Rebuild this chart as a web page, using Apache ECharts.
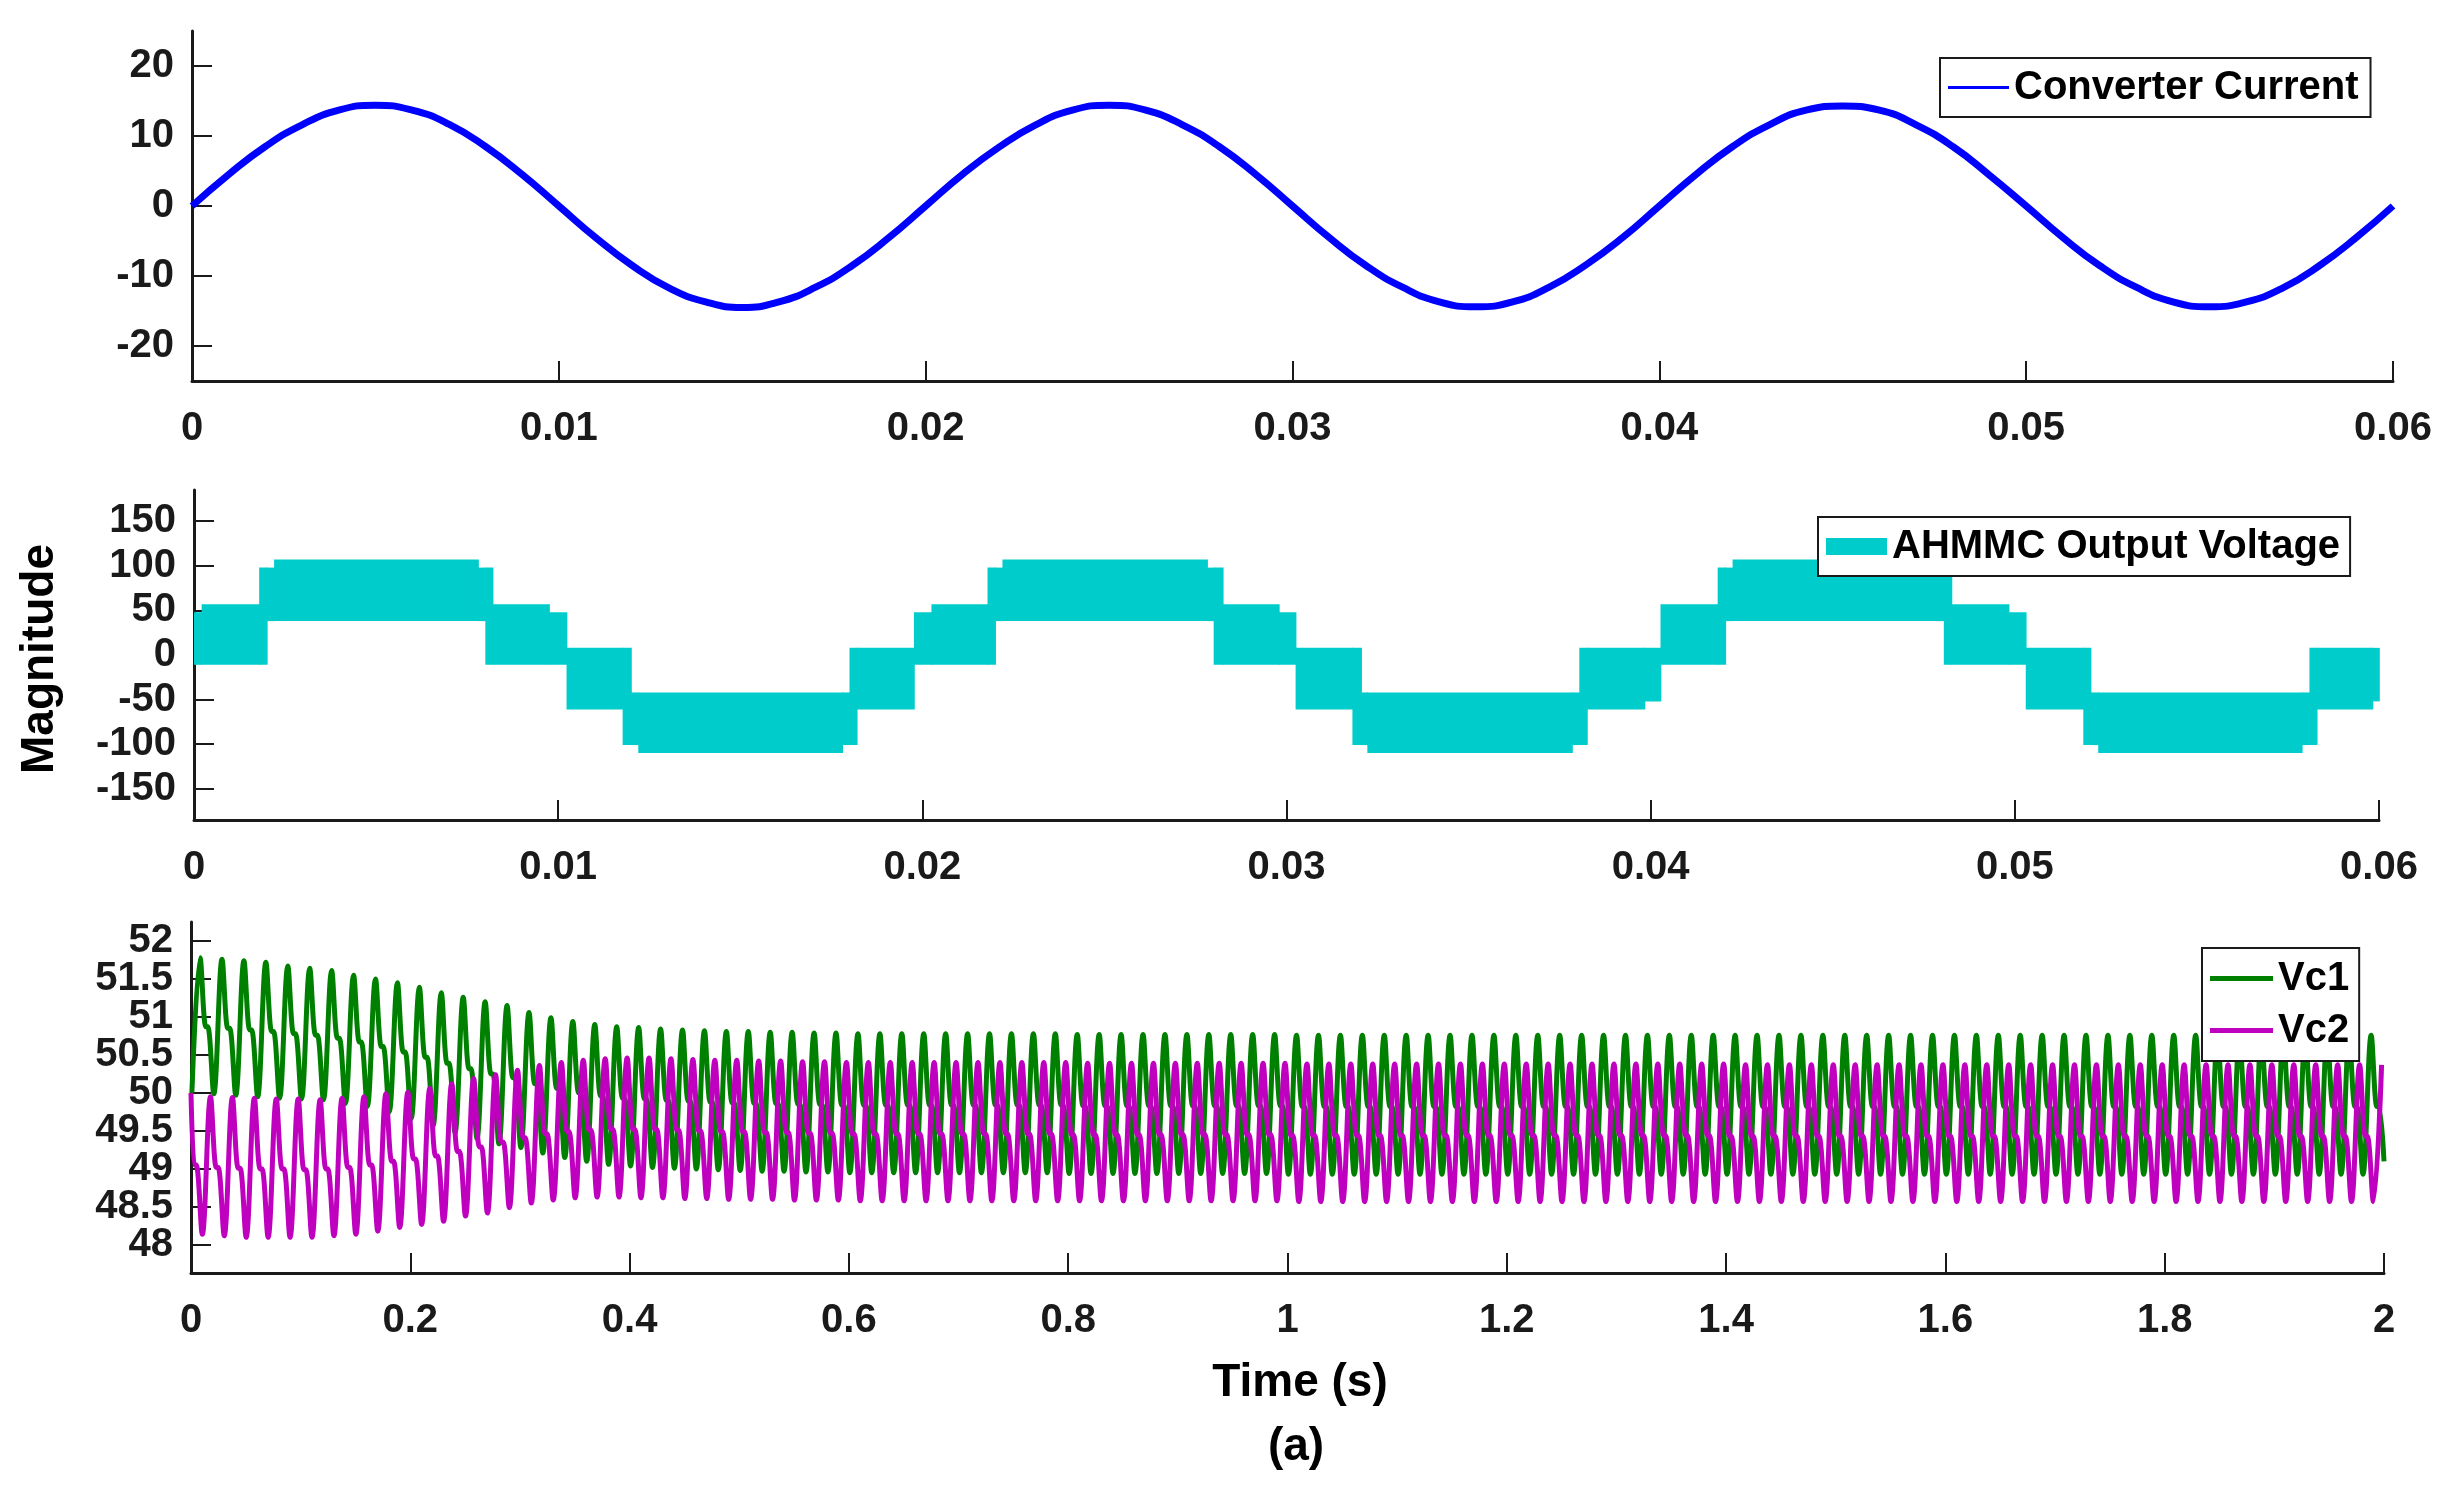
<!DOCTYPE html>
<html>
<head>
<meta charset="utf-8">
<title>AHMMC waveforms</title>
<script src="https://cdn.jsdelivr.net/npm/echarts@6/dist/echarts.min.js"></script>
<style>
  html, body { margin: 0; padding: 0; background: #fff; }
  #chart { width: 2459px; height: 1491px; }
</style>
</head>
<body>
<div id="chart"></div>
<script>
// converter current, one reading per millisecond, 0 .. 60 ms
var currentStepMs = 1;
var currentA = [
  0, 4.5, 8.5, 11.6, 13.7, 14.4, 13.7, 11.7, 8.5, 4.5,
  0, -4.5, -8.5, -11.7, -13.7, -14.5, -13.7, -11.6, -8.5, -4.5,
  0, 4.5, 8.4, 11.6, 13.7, 14.4, 13.7, 11.6, 8.5, 4.5,
  0, -4.5, -8.5, -11.6, -13.7, -14.4, -13.7, -11.6, -8.4, -4.5,
  0, 4.5, 8.5, 11.6, 13.7, 14.3, 13.7, 11.6, 8.5, 4.4,
  0, -4.5, -8.5, -11.6, -13.7, -14.4, -13.7, -11.7, -8.5, -4.5,
  0
];

// AHMMC output voltage: switching band, segment i runs bandMs[i] .. bandMs[i+1]
var bandMs = [
  0, 0.21, 1.79, 2.0, 2.2, 7.8, 8.0, 8.2, 9.75, 10.23, 11.77, 12.0, 12.2, 17.8, 18.0, 18.2, 19.77,
  20.25, 21.79, 22.0, 22.2, 27.82, 28.0, 28.25, 29.79, 30.25, 31.81, 32.05, 32.22, 37.84, 38.04, 38.25, 39.83, 40.27,
  41.84, 42.05, 42.25, 47.83, 48.05, 48.26, 49.83, 50.3, 51.88, 52.08, 52.29, 57.88, 58.09, 58.29, 59.82, 60.0
];
var bandLow = [
  -11, -11, -11, 38, 38, 38, -11, -11, -11, -61, -101, -101, -110, -101, -101, -61,
  -11, -11, -11, 38, 38, 38, -11, -11, -11, -61, -101, -101, -110, -101, -101, -61, -52,
  -11, -11, 38, 38, 38, -11, -11, -11, -61, -101, -101, -110, -101, -101, -61, -52
];
var bandHigh = [
  48, 57, 98, 98, 107, 98, 98, 57, 48, 8, 8, -42, -42, -42, 8, 8,
  48, 57, 98, 98, 107, 98, 98, 57, 48, 8, 8, -42, -42, -42, 8, 8, 8,
  57, 98, 98, 107, 98, 98, 57, 48, 8, 8, -42, -42, -42, 8, 8, 8
];

// capacitor voltages, one entry per 50 Hz cycle (100 cycles over 2 s)
var cycleMs = 20;
var vc1OffsetMs = [0.8, 8.3, 13.5, 15.3];   // trough, peak, knee, knee
var vc1Trough = [
  50.00, 49.99, 49.97, 49.95, 49.93, 49.92, 49.91, 49.86, 49.82, 49.75,
  49.66, 49.57, 49.48, 49.40, 49.33, 49.28, 49.21, 49.15, 49.10, 49.06,
  49.04, 49.02, 49.01, 49.00, 48.99, 48.98, 48.97, 48.97, 48.96, 48.96,
  48.95, 48.95, 48.95, 48.95, 48.95, 48.95, 48.95, 48.95, 48.95, 48.95,
  48.94, 48.94, 48.94, 48.94, 48.94, 48.94, 48.94, 48.94, 48.94, 48.94,
  48.93, 48.93, 48.93, 48.93, 48.93, 48.93, 48.93, 48.93, 48.93, 48.93,
  48.93, 48.93, 48.93, 48.93, 48.93, 48.93, 48.93, 48.93, 48.93, 48.93,
  48.93, 48.93, 48.93, 48.93, 48.93, 48.93, 48.93, 48.93, 48.93, 48.93,
  48.93, 48.93, 48.93, 48.93, 48.93, 48.93, 48.93, 48.93, 48.93, 48.93,
  48.93, 48.93, 48.93, 48.93, 48.93, 48.93, 48.93, 48.93, 48.93, 48.93
];
var vc1Peak = [
  51.78, 51.76, 51.74, 51.72, 51.67, 51.64, 51.61, 51.55, 51.50, 51.45,
  51.39, 51.32, 51.26, 51.20, 51.15, 51.06, 50.99, 50.94, 50.90, 50.87,
  50.86, 50.84, 50.83, 50.82, 50.81, 50.81, 50.80, 50.80, 50.79, 50.79,
  50.78, 50.78, 50.78, 50.78, 50.78, 50.78, 50.78, 50.78, 50.78, 50.78,
  50.77, 50.77, 50.77, 50.77, 50.77, 50.77, 50.77, 50.77, 50.77, 50.77,
  50.76, 50.76, 50.76, 50.76, 50.76, 50.76, 50.76, 50.76, 50.76, 50.76,
  50.76, 50.76, 50.76, 50.76, 50.76, 50.76, 50.76, 50.76, 50.76, 50.76,
  50.76, 50.76, 50.76, 50.76, 50.76, 50.76, 50.76, 50.76, 50.76, 50.76,
  50.76, 50.76, 50.76, 50.76, 50.76, 50.76, 50.76, 50.76, 50.76, 50.76,
  50.76, 50.76, 50.76, 50.76, 50.76, 50.76, 50.76, 50.76, 50.76, 50.76
];
var vc1Knee = [
  50.87, 50.85, 50.83, 50.81, 50.78, 50.76, 50.72, 50.67, 50.61, 50.54,
  50.47, 50.39, 50.32, 50.25, 50.20, 50.12, 50.06, 50.00, 49.96, 49.93,
  49.92, 49.90, 49.89, 49.88, 49.87, 49.86, 49.86, 49.85, 49.85, 49.84,
  49.84, 49.84, 49.84, 49.84, 49.84, 49.84, 49.84, 49.84, 49.84, 49.84,
  49.83, 49.83, 49.83, 49.83, 49.83, 49.83, 49.83, 49.83, 49.83, 49.83,
  49.82, 49.82, 49.82, 49.82, 49.82, 49.82, 49.82, 49.82, 49.82, 49.82,
  49.82, 49.82, 49.82, 49.82, 49.82, 49.82, 49.82, 49.82, 49.82, 49.82,
  49.82, 49.82, 49.82, 49.82, 49.82, 49.82, 49.82, 49.82, 49.82, 49.82,
  49.82, 49.82, 49.82, 49.82, 49.82, 49.82, 49.82, 49.82, 49.82, 49.82,
  49.82, 49.82, 49.82, 49.82, 49.82, 49.82, 49.82, 49.82, 49.82, 49.82
];
var vc1End = 49.1;

var vc2Start = 50.0;
var vc2OffsetMs = [3.0, 4.8, 10.3, 17.8];   // knee, knee, trough, peak
var vc2Knee = [
  49.05, 49.02, 49.01, 49.00, 49.00, 48.99, 49.00, 49.02, 49.05, 49.10,
  49.13, 49.17, 49.23, 49.29, 49.35, 49.41, 49.46, 49.49, 49.51, 49.52,
  49.52, 49.52, 49.51, 49.50, 49.49, 49.49, 49.48, 49.48, 49.47, 49.47,
  49.46, 49.46, 49.46, 49.46, 49.46, 49.46, 49.46, 49.46, 49.46, 49.46,
  49.45, 49.45, 49.45, 49.45, 49.45, 49.45, 49.45, 49.45, 49.45, 49.45,
  49.44, 49.44, 49.44, 49.44, 49.44, 49.44, 49.44, 49.44, 49.44, 49.44,
  49.44, 49.44, 49.44, 49.44, 49.44, 49.44, 49.44, 49.44, 49.44, 49.44,
  49.43, 49.43, 49.43, 49.43, 49.43, 49.43, 49.43, 49.43, 49.43, 49.43,
  49.43, 49.43, 49.43, 49.43, 49.43, 49.43, 49.43, 49.43, 49.43, 49.43,
  49.43, 49.43, 49.43, 49.43, 49.43, 49.43, 49.43, 49.43, 49.43, 49.43
];
var vc2Trough = [
  48.14, 48.12, 48.10, 48.10, 48.10, 48.10, 48.12, 48.14, 48.18, 48.23,
  48.27, 48.31, 48.38, 48.42, 48.49, 48.55, 48.59, 48.62, 48.63, 48.63,
  48.62, 48.62, 48.61, 48.61, 48.60, 48.60, 48.60, 48.59, 48.59, 48.59,
  48.58, 48.58, 48.58, 48.58, 48.58, 48.58, 48.58, 48.58, 48.58, 48.58,
  48.58, 48.58, 48.58, 48.58, 48.58, 48.58, 48.58, 48.58, 48.58, 48.58,
  48.57, 48.57, 48.57, 48.57, 48.57, 48.57, 48.57, 48.57, 48.57, 48.57,
  48.57, 48.57, 48.57, 48.57, 48.57, 48.57, 48.57, 48.57, 48.57, 48.57,
  48.57, 48.57, 48.57, 48.57, 48.57, 48.57, 48.57, 48.57, 48.57, 48.57,
  48.57, 48.57, 48.57, 48.57, 48.57, 48.57, 48.57, 48.57, 48.57, 48.57,
  48.57, 48.57, 48.57, 48.57, 48.57, 48.57, 48.57, 48.57, 48.57, 48.57
];
var vc2Peak = [
  49.95, 49.94, 49.93, 49.92, 49.92, 49.91, 49.93, 49.95, 49.99, 50.01,
  50.06, 50.12, 50.19, 50.24, 50.30, 50.36, 50.40, 50.43, 50.45, 50.46,
  50.46, 50.45, 50.44, 50.43, 50.43, 50.42, 50.42, 50.41, 50.41, 50.40,
  50.40, 50.40, 50.40, 50.40, 50.40, 50.40, 50.40, 50.40, 50.40, 50.40,
  50.39, 50.39, 50.39, 50.39, 50.39, 50.39, 50.39, 50.39, 50.39, 50.39,
  50.38, 50.38, 50.38, 50.38, 50.38, 50.38, 50.38, 50.38, 50.38, 50.38,
  50.38, 50.38, 50.38, 50.38, 50.38, 50.38, 50.38, 50.38, 50.38, 50.38,
  50.37, 50.37, 50.37, 50.37, 50.37, 50.37, 50.37, 50.37, 50.37, 50.37,
  50.37, 50.37, 50.37, 50.37, 50.37, 50.37, 50.37, 50.37, 50.37, 50.37,
  50.37, 50.37, 50.37, 50.37, 50.37, 50.37, 50.37, 50.37, 50.37, 50.37
];

// tick labels (the capacitor panel's labels are split over two axes so none get dropped)
var currentTicks = [-20, -10, 0, 10, 20];
var voltageTicks = [-150, -100, -50, 0, 50, 100, 150];
var vcTicks = [48, 48.5, 49, 49.5, 50, 50.5, 51, 51.5, 52];
var vcWholeLabels = [48, 49, 50, 51, 52];
var vcHalfLabels = [48.5, 49.5, 50.5, 51.5];

var FONT = "'Liberation Sans', Arial, sans-serif";
var INK = '#1a1a1a';
var BLUE = '#0000ff', CYAN = '#00cccc', GREEN = '#008000', MAGENTA = '#bf00bf';

// build the tables the series need
var currentData = currentA.map(function (v, i) { return [i * currentStepMs / 1000, v]; });

var bandData = [];
for (var i = 0; i < bandLow.length; i++) {
  bandData.push([bandMs[i] / 1000, bandMs[i + 1] / 1000, bandLow[i], bandHigh[i]]);
}

var vc1Data = [];
for (var k = 0; k < vc1Peak.length; k++) {
  var t0 = k * cycleMs;
  vc1Data.push([(t0 + vc1OffsetMs[0]) / 1000, vc1Trough[k]]);
  vc1Data.push([(t0 + vc1OffsetMs[1]) / 1000, vc1Peak[k]]);
  vc1Data.push([(t0 + vc1OffsetMs[2]) / 1000, vc1Knee[k]]);
  vc1Data.push([(t0 + vc1OffsetMs[3]) / 1000, vc1Knee[k]]);
}
vc1Data.push([vc1Peak.length * cycleMs / 1000, vc1End]);

var vc2Data = [[0, vc2Start]];
for (var k = 0; k < vc2Peak.length; k++) {
  var t0 = k * cycleMs;
  vc2Data.push([(t0 + vc2OffsetMs[0]) / 1000, vc2Knee[k]]);
  vc2Data.push([(t0 + vc2OffsetMs[1]) / 1000, vc2Knee[k]]);
  vc2Data.push([(t0 + vc2OffsetMs[2]) / 1000, vc2Trough[k]]);
  vc2Data.push([(t0 + vc2OffsetMs[3]) / 1000, vc2Peak[k]]);
}

var labelStyle = { fontSize: 40, fontWeight: 'bold', fontFamily: FONT, color: INK };

function xAxisOf(grid, max, step) {
  return {
    type: 'value', gridIndex: grid, min: 0, max: max, interval: step,
    axisLine: { show: true, onZero: false, lineStyle: { color: INK, width: 3 } },
    axisTick: { show: true, inside: true, length: 20, lineStyle: { color: INK, width: 2 } },
    axisLabel: Object.assign({ margin: 28, showMinLabel: true, showMaxLabel: true }, labelStyle),
    splitLine: { show: false }
  };
}

function yAxisOf(grid, min, max, ticks, labels) {
  return {
    type: 'value', gridIndex: grid, min: min, max: max, position: 'left',
    axisLine: { show: true, onZero: false, lineStyle: { color: INK, width: 3 } },
    axisTick: { show: true, inside: true, length: 20, customValues: ticks, lineStyle: { color: INK, width: 2 } },
    axisLabel: Object.assign({ margin: 18, customValues: labels || ticks }, labelStyle),
    splitLine: { show: false }
  };
}

function legendOf(data, left, top, opts) {
  var l = {
    data: data, left: left, top: top, orient: 'horizontal', icon: 'rect',
    selectedMode: false, backgroundColor: '#fff', borderColor: INK, borderWidth: 2,
    padding: [8, 12, 8, 8], itemWidth: 61, itemHeight: 3,
    textStyle: { fontSize: 40, fontWeight: 'bold', fontFamily: FONT, color: '#000', lineHeight: 43 }
  };
  for (var key in opts) l[key] = opts[key];
  return l;
}

var vcHalfAxis = yAxisOf(2, 47.63, 52.25, vcTicks, vcHalfLabels);
vcHalfAxis.axisLine = { show: false };
vcHalfAxis.axisTick = { show: false };

var chart = echarts.init(document.getElementById('chart'));

chart.setOption({
  animation: false,
  backgroundColor: '#fff',
  grid: [
    { left: 192, top: 31, width: 2201, height: 350, outerBoundsMode: 'none' },
    { left: 194, top: 490, width: 2185, height: 330, outerBoundsMode: 'none' },
    { left: 191, top: 922, width: 2193, height: 351, outerBoundsMode: 'none' }
  ],
  xAxis: [
    xAxisOf(0, 0.06, 0.01),
    xAxisOf(1, 0.06, 0.01),
    xAxisOf(2, 2, 0.2)
  ],
  yAxis: [
    yAxisOf(0, -25, 25, currentTicks),
    yAxisOf(1, -185, 185, voltageTicks),
    yAxisOf(2, 47.63, 52.25, vcTicks, vcWholeLabels),
    vcHalfAxis
  ],
  legend: [
    legendOf(['Converter Current'], 1940, 58, {}),
    legendOf([{ name: 'AHMMC Output Voltage', itemStyle: { color: CYAN } }], 1818, 517,
      { itemHeight: 17, padding: [8, 10, 8, 8] }),
    legendOf(['Vc1', 'Vc2'], 2202, 948,
      { orient: 'vertical', itemWidth: 63, itemHeight: 5, itemGap: 9, padding: [9, 10, 9, 8] })
  ],
  graphic: [
    { type: 'text', x: 40, y: 659, rotation: Math.PI / 2,
      style: { text: 'Magnitude', fontSize: 46, fontWeight: 'bold', fontFamily: FONT, fill: '#000',
        textAlign: 'center', textVerticalAlign: 'middle' } },
    { type: 'text', x: 1300, y: 1383,
      style: { text: 'Time (s)', fontSize: 46, fontWeight: 'bold', fontFamily: FONT, fill: '#000',
        textAlign: 'center', textVerticalAlign: 'middle' } },
    { type: 'text', x: 1296, y: 1447,
      style: { text: '(a)', fontSize: 46, fontWeight: 'bold', fontFamily: FONT, fill: '#000',
        textAlign: 'center', textVerticalAlign: 'middle' } }
  ],
  series: [
    {
      name: 'Converter Current', type: 'line', xAxisIndex: 0, yAxisIndex: 0,
      data: currentData, smooth: true, showSymbol: false, symbol: 'none',
      lineStyle: { color: BLUE, width: 7 }, itemStyle: { color: BLUE }
    },
    {
      name: 'AHMMC Output Voltage', type: 'custom', xAxisIndex: 1, yAxisIndex: 1,
      data: bandData, encode: { x: [0, 1], y: [2, 3] },
      itemStyle: { color: CYAN },
      renderItem: function (params, api) {
        var a = api.coord([api.value(0), api.value(3)]);
        var b = api.coord([api.value(1), api.value(2)]);
        return {
          type: 'rect',
          shape: { x: a[0], y: a[1], width: b[0] - a[0] + 0.8, height: b[1] - a[1] },
          style: { fill: CYAN }
        };
      }
    },
    {
      name: 'Vc1', type: 'line', xAxisIndex: 2, yAxisIndex: 2,
      data: vc1Data, smooth: 0.35, showSymbol: false, symbol: 'none',
      lineStyle: { color: GREEN, width: 5 }, itemStyle: { color: GREEN }
    },
    {
      name: 'Vc2', type: 'line', xAxisIndex: 2, yAxisIndex: 2,
      data: vc2Data, smooth: 0.35, showSymbol: false, symbol: 'none',
      lineStyle: { color: MAGENTA, width: 5 }, itemStyle: { color: MAGENTA }
    }
  ]
});
</script>
</body>
</html>
